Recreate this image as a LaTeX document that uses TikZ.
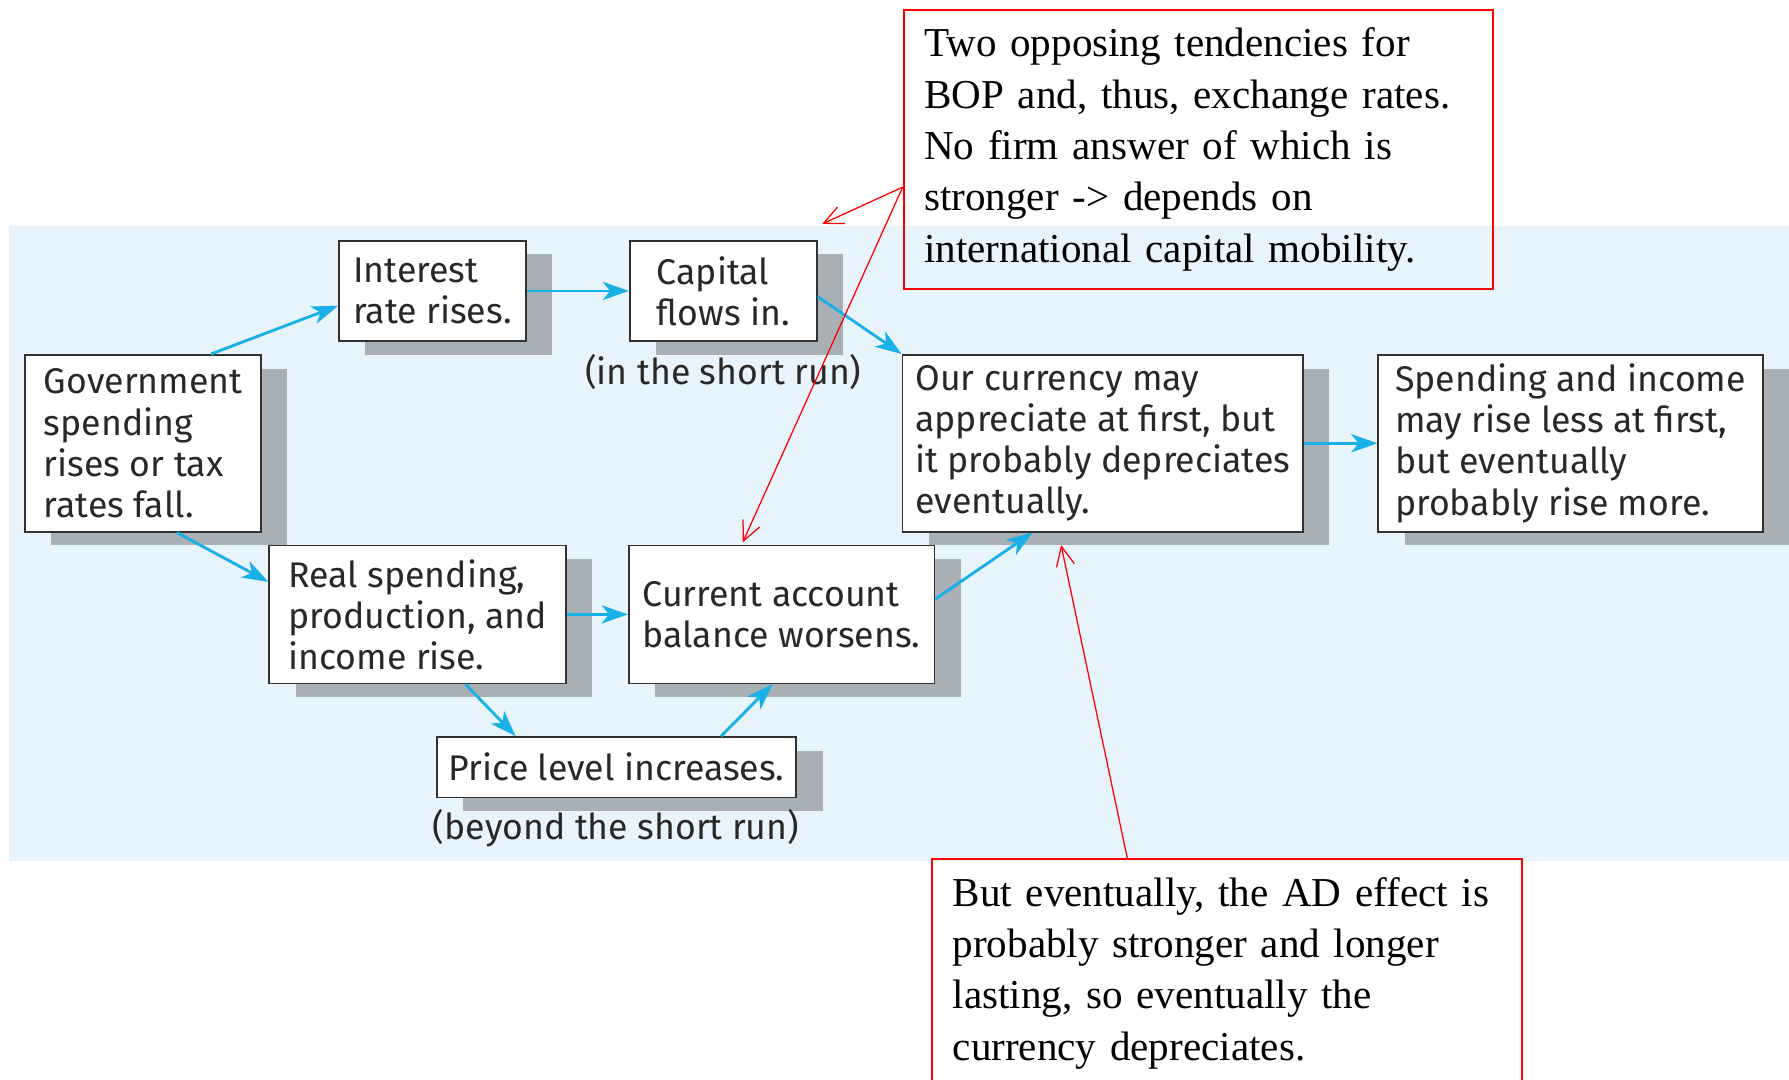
\documentclass[tikz,border=0pt]{standalone}
\usepackage{fontspec}
\setmainfont{Liberation Serif}
\setsansfont{Fira Sans}
\usetikzlibrary{arrows.meta,shadows,positioning}
\definecolor{panelblue}{RGB}{232,244,252}
\definecolor{flowblue}{RGB}{24,176,230}
\definecolor{shadowgray}{RGB}{168,175,181}
\definecolor{boxline}{RGB}{50,50,50}
\definecolor{inktext}{RGB}{40,40,40}
\tikzset{
	stage/.style={draw=boxline, line width=0.03cm, fill=white, align=left, inner sep=0pt, text=inktext,
		font=\sffamily\fontsize{17.8}{20.5}\selectfont,
		drop shadow={shadow xshift=0.46cm, shadow yshift=-0.24cm, fill=shadowgray, opacity=1}},
	runlabel/.style={text=inktext, inner sep=0pt, font=\sffamily\fontsize{17.8}{20.5}\selectfont},
	flow/.style={draw=flowblue, line width=0.05cm, -{Stealth[length=0.46cm, width=0.32cm, inset=0.13cm]}},
	note/.style={draw=red, line width=0.035cm, align=left, text width=9.62cm, inner xsep=0.36cm, inner ysep=0pt,
		font=\fontsize{20.5}{25.6}\selectfont},
	pointer/.style={draw=red, line width=0.022cm, -{Straight Barb[length=0.34cm, width=0.32cm]}}
}

\begin{document}
\begin{tikzpicture}[x=0.02cm, y=-0.02cm]
		\clip (0,0) rectangle (1568,946);
		\fill[white] (0,0) rectangle (1568,946);
		\fill[panelblue] (8,198) rectangle (1568,755);

		\node[stage, minimum width=4.14cm, minimum height=3.10cm] (gov) at (125.5,388.5) {Government\\spending\\rises or tax\\rates fall.};
		\node[stage, minimum width=3.28cm, minimum height=1.76cm] (interest) at (379,255) {Interest\\rate rises.};
		\node[stage, minimum width=3.28cm, minimum height=1.76cm] (capital) at (634,255) {Capital\\flows in.};
		\node[stage, minimum width=5.20cm, minimum height=2.42cm] (real) at (366,538.5) {Real spending,\\production, and\\income rise.};
		\node[stage, minimum width=5.36cm, minimum height=2.42cm] (current) at (685,538.5) {Current account\\balance worsens.};
		\node[stage, minimum width=6.30cm, minimum height=1.06cm] (price) at (540.5,672.5) {Price level increases.};
		\node[stage, minimum width=7.02cm, minimum height=3.10cm] (currency) at (966.5,388.5) {Our currency may\\appreciate at first, but\\it probably depreciates\\eventually.};
		\node[stage, minimum width=6.74cm, minimum height=3.10cm] (spending) at (1376.5,388.5) {Spending and income\\may rise less at first,\\but eventually\\probably rise more.};

		\node[runlabel] (shortrun) at (634,326) {(in the short run)};
		\node[runlabel] (beyondrun) at (540,726) {(beyond the short run)};

		\draw[flow] ([xshift=1.19cm]gov.north) -- ([yshift=-0.26cm]interest.west);
		\draw[flow] (interest.east) -- (capital.west);
		\draw[flow] ([yshift=-0.1cm]capital.east) -- (currency.north west);
		\draw[flow] ([xshift=0.59cm]gov.south) -- ([yshift=0.57cm]real.west);
		\draw[flow] (real.east) -- (current.west);
		\draw[flow] ([xshift=0.84cm]real.south) -- ([xshift=-1.77cm]price.north);
		\draw[flow] ([xshift=1.83cm]price.north) -- ([xshift=-0.16cm]current.south);
		\draw[flow] ([yshift=0.27cm]current.east) -- ([xshift=-1.23cm]currency.south);
		\draw[flow] (currency.east) -- (spending.west);

		\node[note, minimum height=4.88cm] (topnote) at (1050.5,131) {Two opposing tendencies for\\BOP and, thus, exchange rates.\\No firm answer of which is\\stronger -> depends on\\international capital mobility.};
		\node[note, minimum height=4.00cm] (bottomnote) at (1075.5,853) {But eventually, the AD effect is\\probably stronger and longer\\lasting, so eventually the\\currency depreciates.};

		\coordinate (tail) at ([yshift=-0.66cm]topnote.west);
		\draw[pointer] (tail) -- ([shift={(0.08cm,0.28cm)}]capital.north east);
		\draw[pointer] (tail) -- ([shift={(-0.68cm,0.04cm)}]current.north);
		\draw[pointer] ([xshift=-1.75cm]bottomnote.north) -- ([shift={(-0.73cm,-0.22cm)}]currency.south);
	\end{tikzpicture}
\end{document}
